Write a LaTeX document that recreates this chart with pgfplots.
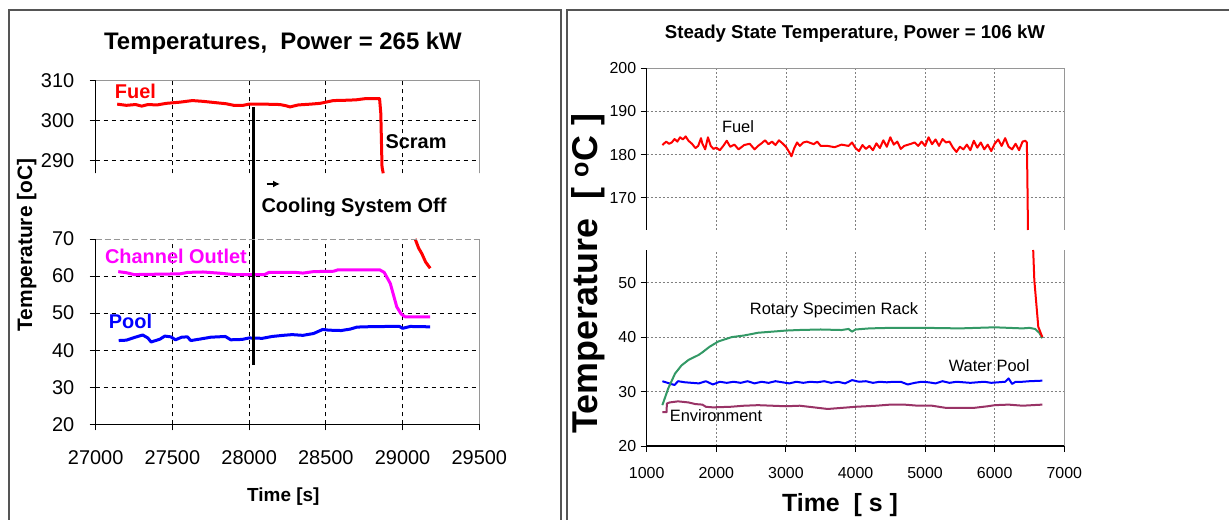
\documentclass[border=0pt]{standalone}
\usepackage{pgfplots}
\pgfplotsset{compat=1.18}
\usetikzlibrary{arrows.meta}
\usepackage{fontspec}
\setmainfont{Liberation Sans}
\newcommand\fs[1]{\fontsize{#1}{#1}\selectfont}
\definecolor{fuelred}{RGB}{255,0,0}
\definecolor{chmag}{RGB}{255,0,255}
\definecolor{poolblue}{RGB}{0,0,255}
\definecolor{rackgreen}{RGB}{51,153,102}
\definecolor{envpurple}{RGB}{153,51,102}
\definecolor{framegray}{RGB}{85,85,85}
\definecolor{bordgray}{RGB}{150,150,150}
\pgfplotsset{
  base/.style={
    scale only axis,
    axis line style={draw=none},
    tick align=outside,
    major tick length=6bp,
    xtick pos=left, ytick pos=left,
    tick style={black, line width=1bp},
    /pgf/number format/assume math mode=true,
    /pgf/number format/set thousands separator={},
    scaled ticks=false,
    clip=false,
    grid=major,
    anchor=south west,
  },
  leftax/.style={base,
    xmin=27000, xmax=29500, width=383.6bp,
    xtick={27000,27500,...,29500},
    tick label style={font=\fs{20}},
    xticklabel style={yshift=-17bp},
    yticklabel style={xshift=-12bp},
    major grid style={black, line width=1bp, dash pattern=on 4bp off 4bp},
  },
  rightax/.style={base,
    xmin=1000, xmax=7000, width=417.6bp,
    xtick={1000,2000,...,7000},
    tick label style={font=\fs{16}},
    xticklabel style={yshift=-12bp},
    yticklabel style={xshift=-1bp},
    major grid style={gray, line width=0.8bp, dash pattern=on 2bp off 2bp},
  },
  nox/.style={xtick style={draw=none}, xticklabels={,,,,,,,,,,}},
}
\begin{document}
\begin{tikzpicture}
\useasboundingbox (0,0) rectangle (1229bp,520bp);
\fill[white] (0,0) rectangle (1229bp,520bp);
% frames
\draw[framegray, line width=1.5bp] (9bp,-10bp) |- (561bp,510bp) -- (561bp,-10bp);
\draw[framegray, line width=1.5bp] (567bp,-10bp) |- (1240bp,510bp);

% ===== LEFT UPPER =====
\begin{axis}[leftax, nox, at={(95.7bp,346.7bp)}, height=92.6bp,
  ymin=286.7, ymax=310, ytick={290,300,310}]
\addplot[fuelred, line width=3bp, line join=round] coordinates {
(27140,304.1) (27200,303.8) (27260,304.0) (27300,303.6) (27340,304.0) (27400,303.9)
(27460,304.3) (27550,304.6) (27630,305.0) (27700,304.8) (27750,304.6) (27850,304.2)
(27900,303.8) (27960,303.8) (28000,304.1) (28100,304.1) (28200,304.0) (28240,303.7)
(28266,303.4) (28320,303.9) (28400,304.1) (28462,304.3) (28549,305.0) (28650,305.1)
(28700,305.2) (28760,305.5) (28850,305.5) (28858,301.8) (28866,288.3) (28874,286.7)};
\draw[black, line width=1.2bp] (rel axis cs:0,0) -- (rel axis cs:0,1);
\draw[bordgray, line width=1.2bp] (rel axis cs:0,1) -- (rel axis cs:1,1) -- (rel axis cs:1,0);
\node[font=\fs{20}\bfseries, text=fuelred] at (axis cs:27259,307.2) {Fuel};
\node[font=\fs{20}\bfseries] at (axis cs:29088,294.6) {Scram};
\end{axis}

% ===== LEFT LOWER =====
\begin{axis}[leftax, at={(95.7bp,95.7bp)}, height=185.3bp,
  ymin=20, ymax=70, ytick={20,30,...,60}, extra y ticks={70}, extra y tick style={grid=none}]
\addplot[chmag, line width=3bp, line join=round] coordinates {
(27147,61.2) (27200,60.9) (27250,60.4) (27400,60.5) (27550,60.6) (27600,61.0) (27700,61.1)
(27800,60.8) (27900,60.4) (28100,60.4) (28130,61.0) (28300,61.0) (28350,60.8) (28420,61.2)
(28550,61.3) (28580,61.7) (28850,61.7) (28880,61.0) (28920,58.0) (28962,51.7) (28990,49.8)
(29016,49.0) (29180,49.0)};
\addplot[poolblue, line width=3bp, line join=round] coordinates {
(27150,42.6) (27200,42.7) (27250,43.4) (27306,44.1) (27340,43.3) (27361,42.2) (27420,43.0)
(27450,43.8) (27490,43.6) (27520,42.8) (27560,43.5) (27597,43.6) (27620,42.6) (27680,43.0)
(27750,43.5) (27845,43.7) (27880,42.8) (27954,42.9) (28000,43.3) (28086,43.2) (28150,43.7)
(28220,44.0) (28281,44.2) (28350,44.0) (28420,44.5) (28480,45.6) (28520,45.4) (28600,45.3)
(28660,45.7) (28700,46.2) (28738,46.3) (28900,46.4) (28980,46.4) (29000,45.9) (29050,46.4)
(29180,46.3)};
\addplot[fuelred, line width=3bp, line join=round] coordinates {
(29082,70) (29105,67.5) (29125,66.1) (29150,63.8) (29180,62.1)};
\addplot[black, line width=3bp] coordinates {(28030,36) (28030,105.5)};
\draw[bordgray, line width=1bp, dash pattern=on 6bp off 3bp] (rel axis cs:0,1) -- (rel axis cs:1,1);
\draw[black, line width=1.2bp] (rel axis cs:0,1) -- (rel axis cs:0,0) -- (rel axis cs:1,0);
\draw[bordgray, line width=1.2bp] (rel axis cs:1,0) -- (rel axis cs:1,1);
\node[font=\fs{20}\bfseries, text=chmag] at (axis cs:27523,65.2) {Channel Outlet};
\node[font=\fs{20}\bfseries, text=poolblue] at (axis cs:27227,47.7) {Pool};
\end{axis}

\draw[black, line width=1.8bp, -{Latex[length=7bp,width=7bp]}] (266.7bp,336bp) -- (280bp,336bp);
\node[font=\fs{20}\bfseries, anchor=west] at (258bp,313bp) {Cooling System Off};
\node[font=\fs{24}\bfseries] at (283bp,477bp) {Temperatures,\ \ Power = 265 kW};
\node[font=\fs{19}\bfseries] at (283.3bp,23.3bp) {Time [s]};
\node[font=\fs{21}\bfseries, rotate=90] at (26.7bp,275bp) {Temperature [oC]};

% ===== RIGHT UPPER =====
\begin{axis}[rightax, nox, at={(646.7bp,290bp)}, height=161.7bp,
  ymin=162.5, ymax=200, ytick={170,180,190,200}]
\addplot[fuelred, line width=2bp, line join=round] coordinates {
(1225,182.2) (1280,183.0) (1320,182.5) (1360,182.8) (1400,183.6) (1440,183.0) (1480,184.0)
(1520,183.5) (1560,184.2) (1600,183.2) (1650,182.5) (1700,181.5) (1740,182.0) (1780,183.8)
(1800,182.5) (1840,181.2) (1880,184.0) (1920,182.0) (1960,181.3) (2000,181.6) (2050,181.0)
(2100,182.0) (2150,183.2) (2200,181.8) (2260,182.3) (2320,181.2) (2400,182.2) (2480,182.5)
(2550,181.2) (2600,182.0) (2650,182.6) (2700,183.3) (2750,182.4) (2800,183.0) (2850,182.2)
(2900,183.3) (2950,182.6) (3000,181.8) (3050,180.5) (3080,179.6) (3120,181.5) (3160,182.8)
(3200,182.0) (3250,182.8) (3300,183.0) (3400,182.4) (3450,183.0) (3500,182.0) (3600,182.0)
(3700,181.7) (3800,182.3) (3900,182.0) (3950,182.8) (4000,181.5) (4050,180.8) (4100,182.2)
(4150,181.3) (4200,182.0) (4250,181.0) (4300,182.6) (4350,181.5) (4400,183.3) (4450,181.8)
(4500,184.0) (4550,182.3) (4600,183.0) (4650,181.3) (4700,182.0) (4800,182.5) (4850,182.8)
(4900,182.0) (4950,183.0) (5000,182.0) (5050,184.0) (5100,182.4) (5150,183.5) (5200,182.0)
(5250,183.6) (5300,182.8) (5350,183.0) (5400,181.6) (5450,180.6) (5500,181.8) (5550,181.2)
(5600,182.3) (5650,181.0) (5700,183.2) (5750,181.6) (5800,182.8) (5850,181.2) (5900,182.3)
(5950,180.8) (6000,182.5) (6050,183.5) (6100,182.0) (6150,183.8) (6200,181.8) (6250,181.2)
(6300,182.5) (6350,181.0) (6400,183.0) (6440,183.2) (6462,182.8) (6470,173.7) (6478,162.5)};
\draw[black, line width=1.2bp] (rel axis cs:0,0) -- (rel axis cs:0,1);
\draw[bordgray, line width=1.2bp] (rel axis cs:0,1) -- (rel axis cs:1,1) -- (rel axis cs:1,0);
\node[font=\fs{16.5}] at (axis cs:2312,186.5) {Fuel};
\end{axis}

% ===== RIGHT LOWER =====
\begin{axis}[rightax, at={(646.7bp,74bp)}, height=196bp,
  ymin=20, ymax=56, ytick={20,30,40,50}]
\addplot[envpurple, line width=2bp, line join=round] coordinates {
(1225,26.2) (1285,26.2) (1290,27.8) (1330,28.0) (1450,28.2) (1600,28.0) (1700,27.7)
(1800,27.6) (1850,27.2) (1950,27.1) (2200,27.2) (2400,27.4) (2600,27.5) (2800,27.4)
(3000,27.3) (3200,27.4) (3400,27.1) (3600,26.8) (3800,27.0) (4000,27.2) (4300,27.4)
(4500,27.6) (4700,27.6) (4900,27.4) (5100,27.4) (5300,27.0) (5500,27.0) (5700,27.0)
(5900,27.3) (6000,27.5) (6200,27.6) (6400,27.4) (6684,27.6)};
\addplot[poolblue, line width=2bp, line join=round] coordinates {
(1225,31.9) (1300,31.6) (1400,31.2) (1450,31.9) (1550,31.7) (1650,31.6) (1750,31.5)
(1850,31.9) (1950,31.3) (2050,31.8) (2150,31.6) (2250,31.8) (2350,31.6) (2450,31.9)
(2550,31.5) (2650,31.8) (2750,31.6) (2850,31.9) (2950,31.7) (3050,31.5) (3150,31.8)
(3250,31.6) (3350,31.8) (3450,31.7) (3550,31.9) (3650,31.6) (3750,31.8) (3850,31.5)
(3950,32.1) (4050,31.8) (4150,31.9) (4250,31.6) (4350,31.8) (4450,31.7) (4550,31.8)
(4650,31.8) (4750,31.3) (4850,31.6) (4950,31.8) (5050,31.7) (5150,31.5) (5250,31.9)
(5350,31.6) (5450,31.8) (5550,31.7) (5650,31.6) (5750,31.7) (5850,31.8) (5950,31.6)
(6050,31.7) (6150,31.8) (6200,32.4) (6250,31.4) (6300,31.8) (6400,31.8) (6500,31.9)
(6684,32.0)};
\addplot[rackgreen, line width=2bp, line join=round] coordinates {
(1225,27.5) (1310,30.6) (1407,33.3) (1500,34.8) (1600,35.8) (1742,36.7) (1800,37.2)
(1900,38.2) (2029,39.2) (2100,39.5) (2221,40.0) (2400,40.3) (2600,40.8) (2800,41.0)
(3000,41.2) (3178,41.3) (3500,41.4) (3800,41.3) (3900,41.5) (3950,41.0) (4000,41.4)
(4200,41.6) (4500,41.7) (5000,41.7) (5500,41.6) (6000,41.8) (6400,41.6) (6500,41.7)
(6580,41.5) (6640,40.8) (6684,39.8)};
\addplot[fuelred, line width=2bp, line join=round] coordinates {
(6553,56) (6569,50.5) (6626,41.9) (6684,40.0)};
\draw[black, line width=1.2bp] (rel axis cs:0,1) -- (rel axis cs:0,0) -- (rel axis cs:1,0);
\draw[bordgray, line width=1.2bp] (rel axis cs:1,0) -- (rel axis cs:1,1);
\node[font=\fs{16.5}] at (axis cs:3691,44.85) {Rotary Specimen Rack};
\node[font=\fs{16.5}] at (axis cs:5920,34.74) {Water Pool};
\node[font=\fs{16.5}] at (axis cs:1996,25.5) {Environment};
\end{axis}

\node[font=\fs{18.7}\bfseries] at (855bp,486.7bp) {Steady State Temperature, Power = 106 kW};
\node[font=\fs{25}\bfseries] at (840bp,15bp) {Time\ \ [ s ]};
\node[font=\fs{36}\bfseries, rotate=90] at (588bp,246.5bp) {Temperature\ \ [ \textsuperscript{o}C ]};
\end{tikzpicture}
\end{document}
